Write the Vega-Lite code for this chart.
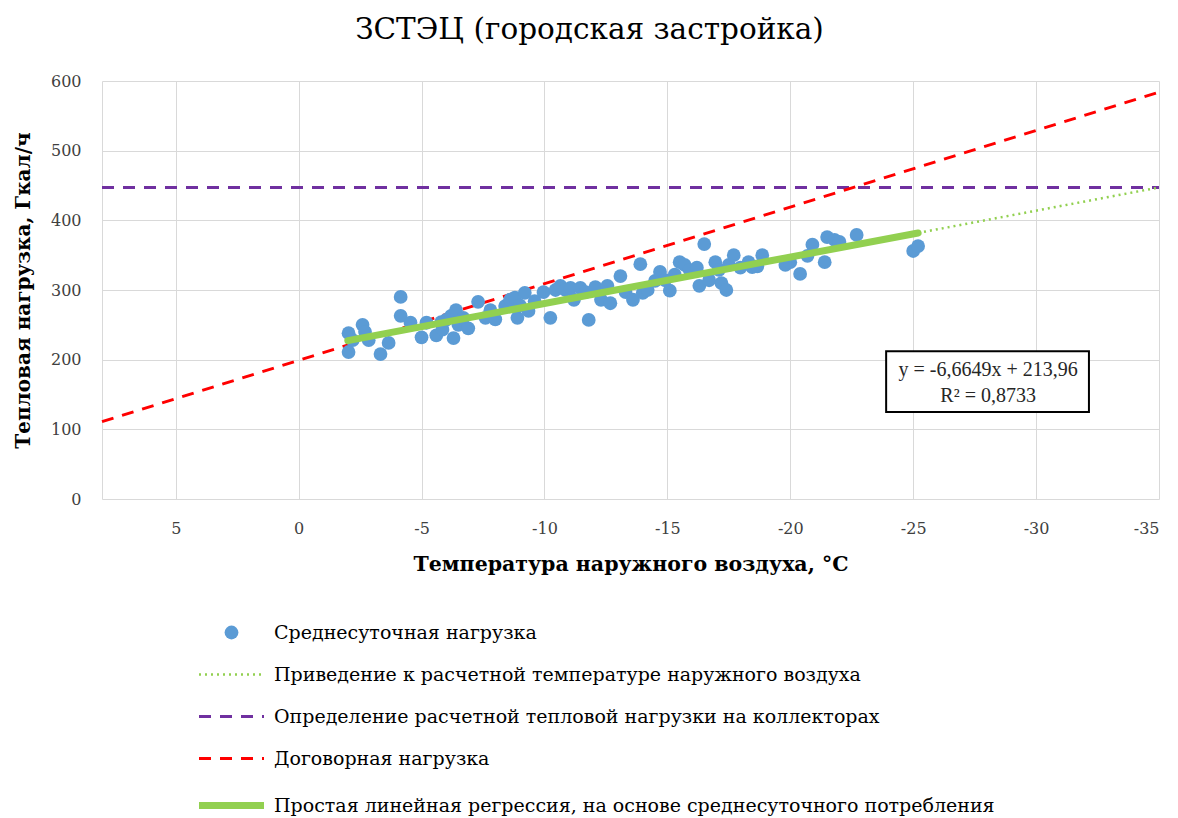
{
  "$schema": "https://vega.github.io/schema/vega-lite/v6.json",
  "autosize": "none",
  "width": 1057,
  "height": 418,
  "padding": {"left": 102, "top": 81, "right": 19, "bottom": 319},
  "background": "white",
  "config": {
    "font": "DejaVu Serif",
    "view": {"stroke": null},
    "axis": {"labelFont": "DejaVu Serif", "titleFont": "DejaVu Serif", "labelColor": "#404040", "titleColor": "#000000", "gridColor": "#d9d9d9", "domainColor": "#d9d9d9", "ticks": false}
  },
  "title": {"text": "ЗСТЭЦ (городская  застройка)", "font": "DejaVu Serif", "fontSize": 29.5, "fontWeight": "normal", "color": "#000000", "anchor": "middle", "dx": -41, "offset": 28},
  "datasets": {
    "pts": [
      {"t": -2.03, "q": 238}, {"t": -2.03, "q": 211}, {"t": -2.2, "q": 228}, {"t": -2.6, "q": 250}, {"t": -2.7, "q": 240},
      {"t": -2.85, "q": 228}, {"t": -3.33, "q": 208}, {"t": -3.66, "q": 224}, {"t": -4.15, "q": 290}, {"t": -4.15, "q": 263},
      {"t": -4.55, "q": 253}, {"t": -5.0, "q": 232}, {"t": -5.2, "q": 253}, {"t": -5.6, "q": 235}, {"t": -5.8, "q": 254},
      {"t": -5.85, "q": 243}, {"t": -6.0, "q": 257}, {"t": -6.2, "q": 263}, {"t": -6.3, "q": 231}, {"t": -6.4, "q": 271},
      {"t": -6.5, "q": 250}, {"t": -6.7, "q": 260}, {"t": -6.9, "q": 245}, {"t": -7.3, "q": 283}, {"t": -7.6, "q": 260},
      {"t": -7.8, "q": 271}, {"t": -8.0, "q": 258}, {"t": -8.4, "q": 277}, {"t": -8.6, "q": 286}, {"t": -8.8, "q": 289},
      {"t": -8.9, "q": 260}, {"t": -9.0, "q": 278}, {"t": -9.2, "q": 296}, {"t": -9.35, "q": 270}, {"t": -9.6, "q": 284},
      {"t": -9.96, "q": 297}, {"t": -10.24, "q": 260}, {"t": -10.45, "q": 300}, {"t": -10.65, "q": 306}, {"t": -10.85, "q": 300},
      {"t": -11.06, "q": 303}, {"t": -11.2, "q": 286}, {"t": -11.46, "q": 303}, {"t": -11.67, "q": 297}, {"t": -11.8, "q": 257},
      {"t": -12.07, "q": 304}, {"t": -12.3, "q": 286}, {"t": -12.56, "q": 306}, {"t": -12.68, "q": 281}, {"t": -13.09, "q": 320},
      {"t": -13.3, "q": 297}, {"t": -13.6, "q": 286}, {"t": -13.9, "q": 337}, {"t": -14.0, "q": 296}, {"t": -14.2, "q": 300},
      {"t": -14.5, "q": 313}, {"t": -14.7, "q": 326}, {"t": -14.9, "q": 314}, {"t": -15.1, "q": 299}, {"t": -15.3, "q": 322},
      {"t": -15.5, "q": 340}, {"t": -15.7, "q": 336}, {"t": -15.9, "q": 329}, {"t": -16.2, "q": 332}, {"t": -16.3, "q": 306},
      {"t": -16.5, "q": 366}, {"t": -16.7, "q": 314}, {"t": -16.95, "q": 340}, {"t": -17.1, "q": 329}, {"t": -17.2, "q": 310},
      {"t": -17.4, "q": 300}, {"t": -17.5, "q": 336}, {"t": -17.7, "q": 350}, {"t": -17.97, "q": 332}, {"t": -18.3, "q": 340},
      {"t": -18.45, "q": 333}, {"t": -18.66, "q": 334}, {"t": -18.86, "q": 350}, {"t": -19.8, "q": 336}, {"t": -20.0, "q": 340},
      {"t": -20.4, "q": 323}, {"t": -20.7, "q": 349}, {"t": -20.9, "q": 365}, {"t": -21.4, "q": 340}, {"t": -21.5, "q": 376},
      {"t": -21.8, "q": 372}, {"t": -22.0, "q": 369}, {"t": -22.7, "q": 379}, {"t": -25.0, "q": 356}, {"t": -25.2, "q": 363}
    ],
    "lines": [
      {"s": "Приведение к расчетной температуре наружного воздуха", "t": -25.2, "q": 381.9},
      {"s": "Приведение к расчетной температуре наружного воздуха", "t": -35, "q": 447.2},
      {"s": "Определение расчетной тепловой нагрузки на коллекторах", "t": 8, "q": 447},
      {"s": "Определение расчетной тепловой нагрузки на коллекторах", "t": -35, "q": 447},
      {"s": "Договорная нагрузка", "t": 8, "q": 111},
      {"s": "Договорная нагрузка", "t": -35, "q": 584},
      {"s": "Простая линейная  регрессия, на основе среднесуточного потребления", "t": -2, "q": 227.3},
      {"s": "Простая линейная  регрессия, на основе среднесуточного потребления", "t": -25.2, "q": 381.9}
    ],
    "eq": [{"l1": "y = -6,6649x  + 213,96", "l2": "R² = 0,8733"}]
  },
  "encoding": {
    "x": {"type": "quantitative", "scale": {"domain": [8, -35], "nice": false, "zero": false},
      "axis": {"values": [5, 0, -5, -10, -15, -20, -25, -30, -35], "labelExpr": "'' + datum.value", "title": "Температура наружного воздуха, °C", "titleFontSize": 20.5, "titleFontWeight": "bold", "titlePadding": 18, "labelFontSize": 16, "labelPadding": 21, "domain": false}},
    "y": {"type": "quantitative", "scale": {"domain": [0, 600], "nice": false},
      "axis": {"values": [0, 100, 200, 300, 400, 500, 600], "title": "Тепловая нагрузка, Гкал/ч", "titleFontSize": 20, "titleFontWeight": "bold", "titlePadding": 17, "labelFontSize": 16, "labelPadding": 21, "domain": true}}
  },
  "layer": [
    {
      "data": {"name": "lines"},
      "transform": [{"filter": "datum.s === 'Определение расчетной тепловой нагрузки на коллекторах'"}],
      "mark": {"type": "line", "strokeWidth": 3, "strokeDash": [12, 9]},
      "encoding": {"x": {"field": "t"}, "y": {"field": "q"}, "color": {"field": "s", "type": "nominal"}}
    },
    {
      "data": {"name": "lines"},
      "transform": [{"filter": "datum.s === 'Договорная нагрузка'"}],
      "mark": {"type": "line", "strokeWidth": 3, "strokeDash": [12, 9]},
      "encoding": {"x": {"field": "t"}, "y": {"field": "q"}, "color": {"field": "s", "type": "nominal"}}
    },
    {
      "data": {"name": "pts"},
      "mark": {"type": "point", "filled": true, "opacity": 1, "size": 190},
      "encoding": {"x": {"field": "t"}, "y": {"field": "q"}, "color": {"datum": "Среднесуточная нагрузка", "type": "nominal"}}
    },
    {
      "data": {"name": "lines"},
      "transform": [{"filter": "datum.s === 'Приведение к расчетной температуре наружного воздуха'"}],
      "mark": {"type": "line", "strokeWidth": 2.5, "strokeDash": [2, 4]},
      "encoding": {"x": {"field": "t"}, "y": {"field": "q"}, "color": {"field": "s", "type": "nominal"}}
    },
    {
      "data": {"name": "lines"},
      "transform": [{"filter": "datum.s === 'Простая линейная  регрессия, на основе среднесуточного потребления'"}],
      "mark": {"type": "line", "strokeWidth": 7, "strokeCap": "round"},
      "encoding": {"x": {"field": "t"}, "y": {"field": "q"},
        "color": {"field": "s", "type": "nominal",
          "scale": {
            "domain": ["Среднесуточная нагрузка", "Приведение к расчетной температуре наружного воздуха", "Определение расчетной тепловой нагрузки на коллекторах", "Договорная нагрузка", "Простая линейная  регрессия, на основе среднесуточного потребления"],
            "range": ["#5b9bd5", "#92d050", "#7030a0", "#ff0000", "#92d050"]
          },
          "legend": {
            "title": null, "orient": "none", "legendX": 120, "legendY": 542, "direction": "vertical",
            "labelFont": "DejaVu Serif", "labelFontSize": 19, "labelColor": "#000000", "labelLimit": 900,
            "symbolSize": 4225, "symbolType": "stroke", "rowPadding": 22, "labelOffset": 33, "symbolOffset": 0,
            "encode": {"symbols": {"update": {
              "shape": {"signal": "datum.value === 'Среднесуточная нагрузка' ? 'circle' : 'stroke'"},
              "size": {"signal": "datum.value === 'Среднесуточная нагрузка' ? 190 : 4225"},
              "fill": {"signal": "datum.value === 'Среднесуточная нагрузка' ? '#5b9bd5' : 'transparent'"},
              "stroke": {"signal": "datum.value === 'Среднесуточная нагрузка' ? '#5b9bd5' : datum.value === 'Договорная нагрузка' ? '#ff0000' : datum.value === 'Определение расчетной тепловой нагрузки на коллекторах' ? '#7030a0' : '#92d050'"},
              "strokeWidth": {"signal": "datum.value === 'Среднесуточная нагрузка' ? 0 : datum.value === 'Приведение к расчетной температуре наружного воздуха' ? 2.5 : datum.value === 'Простая линейная  регрессия, на основе среднесуточного потребления' ? 7 : 3"},
              "strokeDash": {"signal": "datum.value === 'Приведение к расчетной температуре наружного воздуха' ? [2, 4] : (datum.value === 'Договорная нагрузка' || datum.value === 'Определение расчетной тепловой нагрузки на коллекторах') ? [12, 9] : [1, 0]"},
              "opacity": {"value": 1}
            }}}
          }
        }}
    },
    {
      "data": {"name": "eq"},
      "mark": {"type": "rect", "fill": "white", "stroke": "black", "strokeWidth": 2},
      "encoding": {"x": {"datum": -23.9}, "x2": {"datum": -32.15}, "y": {"datum": 212}, "y2": {"datum": 125}}
    },
    {
      "data": {"name": "eq"},
      "mark": {"type": "text", "font": "Liberation Serif", "fontSize": 20, "color": "#262626", "align": "center", "baseline": "middle"},
      "encoding": {"x": {"datum": -28.05}, "y": {"datum": 185}, "text": {"field": "l1"}}
    },
    {
      "data": {"name": "eq"},
      "mark": {"type": "text", "font": "Liberation Serif", "fontSize": 20, "color": "#262626", "align": "center", "baseline": "middle"},
      "encoding": {"x": {"datum": -28.05}, "y": {"datum": 148}, "text": {"field": "l2"}}
    }
  ]
}
